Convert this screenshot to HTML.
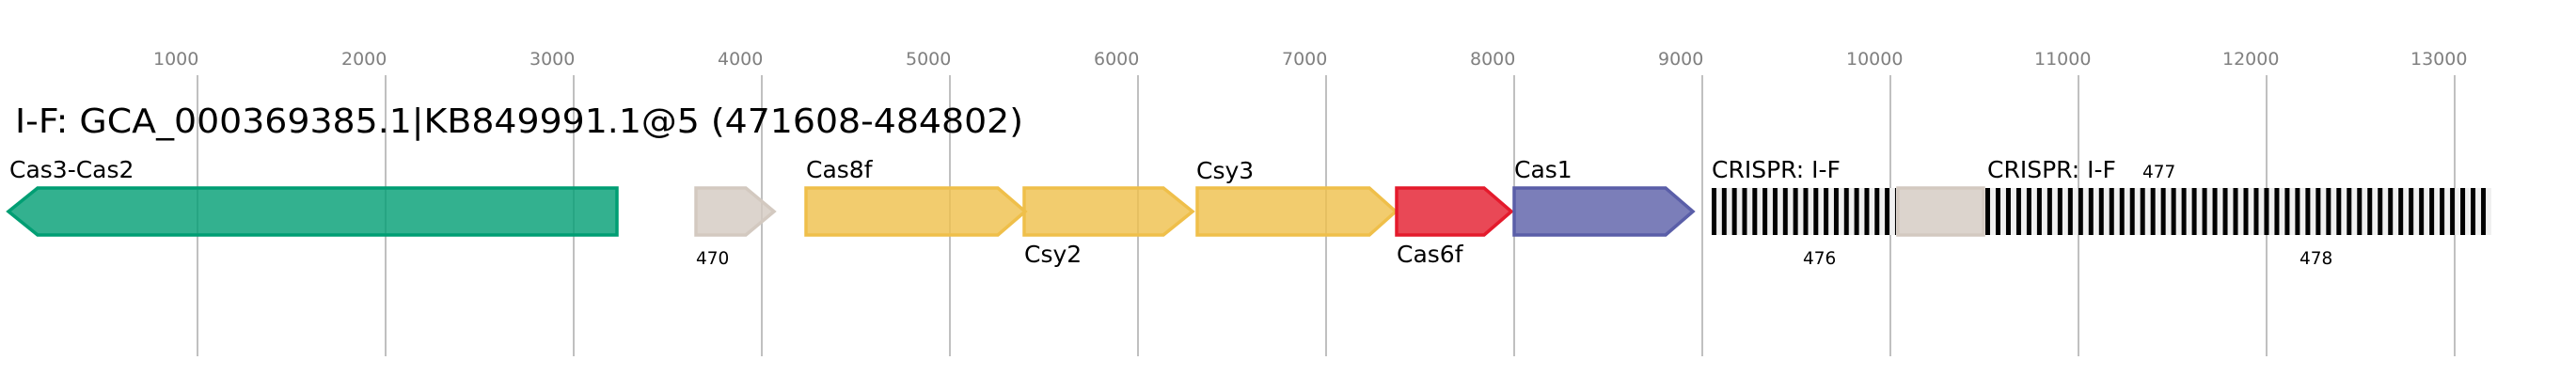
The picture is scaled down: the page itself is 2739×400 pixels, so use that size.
<!DOCTYPE html>
<html><head><meta charset="utf-8"><style>
html,body{margin:0;padding:0;background:#fff;}
svg{display:block;font-family:"DejaVu Sans","Liberation Sans",sans-serif;}
</style></head><body>
<svg width="2739" height="400" viewBox="0 0 2739 400" xmlns="http://www.w3.org/2000/svg">
<defs>
<pattern id="cr" x="1820" y="0" width="10.83" height="60" patternUnits="userSpaceOnUse">
<rect x="0" y="0" width="10.83" height="60" fill="#f0f0f0"/>
<rect x="0" y="0" width="5" height="60" fill="#000"/>
</pattern>
<pattern id="cr2" x="2111" y="0" width="10.98" height="60" patternUnits="userSpaceOnUse">
<rect x="0" y="0" width="10.98" height="60" fill="#f0f0f0"/>
<rect x="0" y="0" width="5" height="60" fill="#000"/>
</pattern>
</defs>
<g stroke="#c0c0c0" stroke-width="2">
<line x1="210" y1="80" x2="210" y2="379"/><line x1="410" y1="80" x2="410" y2="379"/>
<line x1="610" y1="80" x2="610" y2="379"/><line x1="810" y1="80" x2="810" y2="379"/>
<line x1="1010" y1="80" x2="1010" y2="379"/><line x1="1210" y1="80" x2="1210" y2="379"/>
<line x1="1410" y1="80" x2="1410" y2="379"/><line x1="1610" y1="80" x2="1610" y2="379"/>
<line x1="1810" y1="80" x2="1810" y2="379"/><line x1="2010" y1="80" x2="2010" y2="379"/>
<line x1="2210" y1="80" x2="2210" y2="379"/><line x1="2410" y1="80" x2="2410" y2="379"/>
<line x1="2610" y1="80" x2="2610" y2="379"/>
</g>
<g fill="#808080" font-size="19">
<text x="163" y="69">1000</text><text x="363" y="69">2000</text><text x="563" y="69">3000</text>
<text x="763" y="69">4000</text><text x="963" y="69">5000</text><text x="1163" y="69">6000</text>
<text x="1363" y="69">7000</text><text x="1563" y="69">8000</text><text x="1763" y="69">9000</text>
<text x="1963" y="69">10000</text><text x="2163" y="69">11000</text><text x="2363" y="69">12000</text>
<text x="2563" y="69">13000</text>
</g>
<text x="16" y="141" font-size="36" fill="#000" textLength="1072" lengthAdjust="spacingAndGlyphs">I-F: GCA_000369385.1|KB849991.1@5 (471608-484802)</text>
<g stroke-width="3.5" fill-opacity="0.8">
<polygon points="9,225 40,200 656,200 656,250 40,250" fill="#009e73" stroke="#009e73"/>
<polygon points="740,200 793,200 823,225 793,250 740,250" fill="#d3c9c0" stroke="#d3c9c0"/>
<polygon points="857,200 1061,200 1090,225 1061,250 857,250" fill="#efbf4a" stroke="#efbf4a"/>
<polygon points="1089,200 1237,200 1268,225 1237,250 1089,250" fill="#efbf4a" stroke="#efbf4a"/>
<polygon points="1273,200 1456,200 1484,225 1456,250 1273,250" fill="#efbf4a" stroke="#efbf4a"/>
<polygon points="1485,200 1578,200 1607,225 1578,250 1485,250" fill="#e41a2c" stroke="#e41a2c"/>
<polygon points="1610,200 1771,200 1800,225 1771,250 1610,250" fill="#5a5ea8" stroke="#5a5ea8"/>
<rect x="2018" y="200" width="91" height="50" fill="#d3c9c0" stroke="#d3c9c0"/>
</g>
<rect x="1820" y="200" width="196" height="50" fill="url(#cr)"/>
<rect x="2111" y="200" width="538" height="50" fill="url(#cr2)"/>
<g fill="#000" font-size="25">
<text x="10" y="189">Cas3-Cas2</text>
<text x="857" y="189">Cas8f</text>
<text x="1272" y="190">Csy3</text>
<text x="1089" y="279">Csy2</text>
<text x="1485" y="279">Cas6f</text>
<text x="1610" y="189">Cas1</text>
<text x="1820" y="189">CRISPR: I-F</text>
<text x="2113" y="189">CRISPR: I-F</text>
</g>
<g fill="#000" font-size="18.5">
<text x="740" y="281">470</text>
<text x="1917" y="281">476</text>
<text x="2278" y="189">477</text>
<text x="2445" y="281">478</text>
</g>
</svg>
</body></html>
